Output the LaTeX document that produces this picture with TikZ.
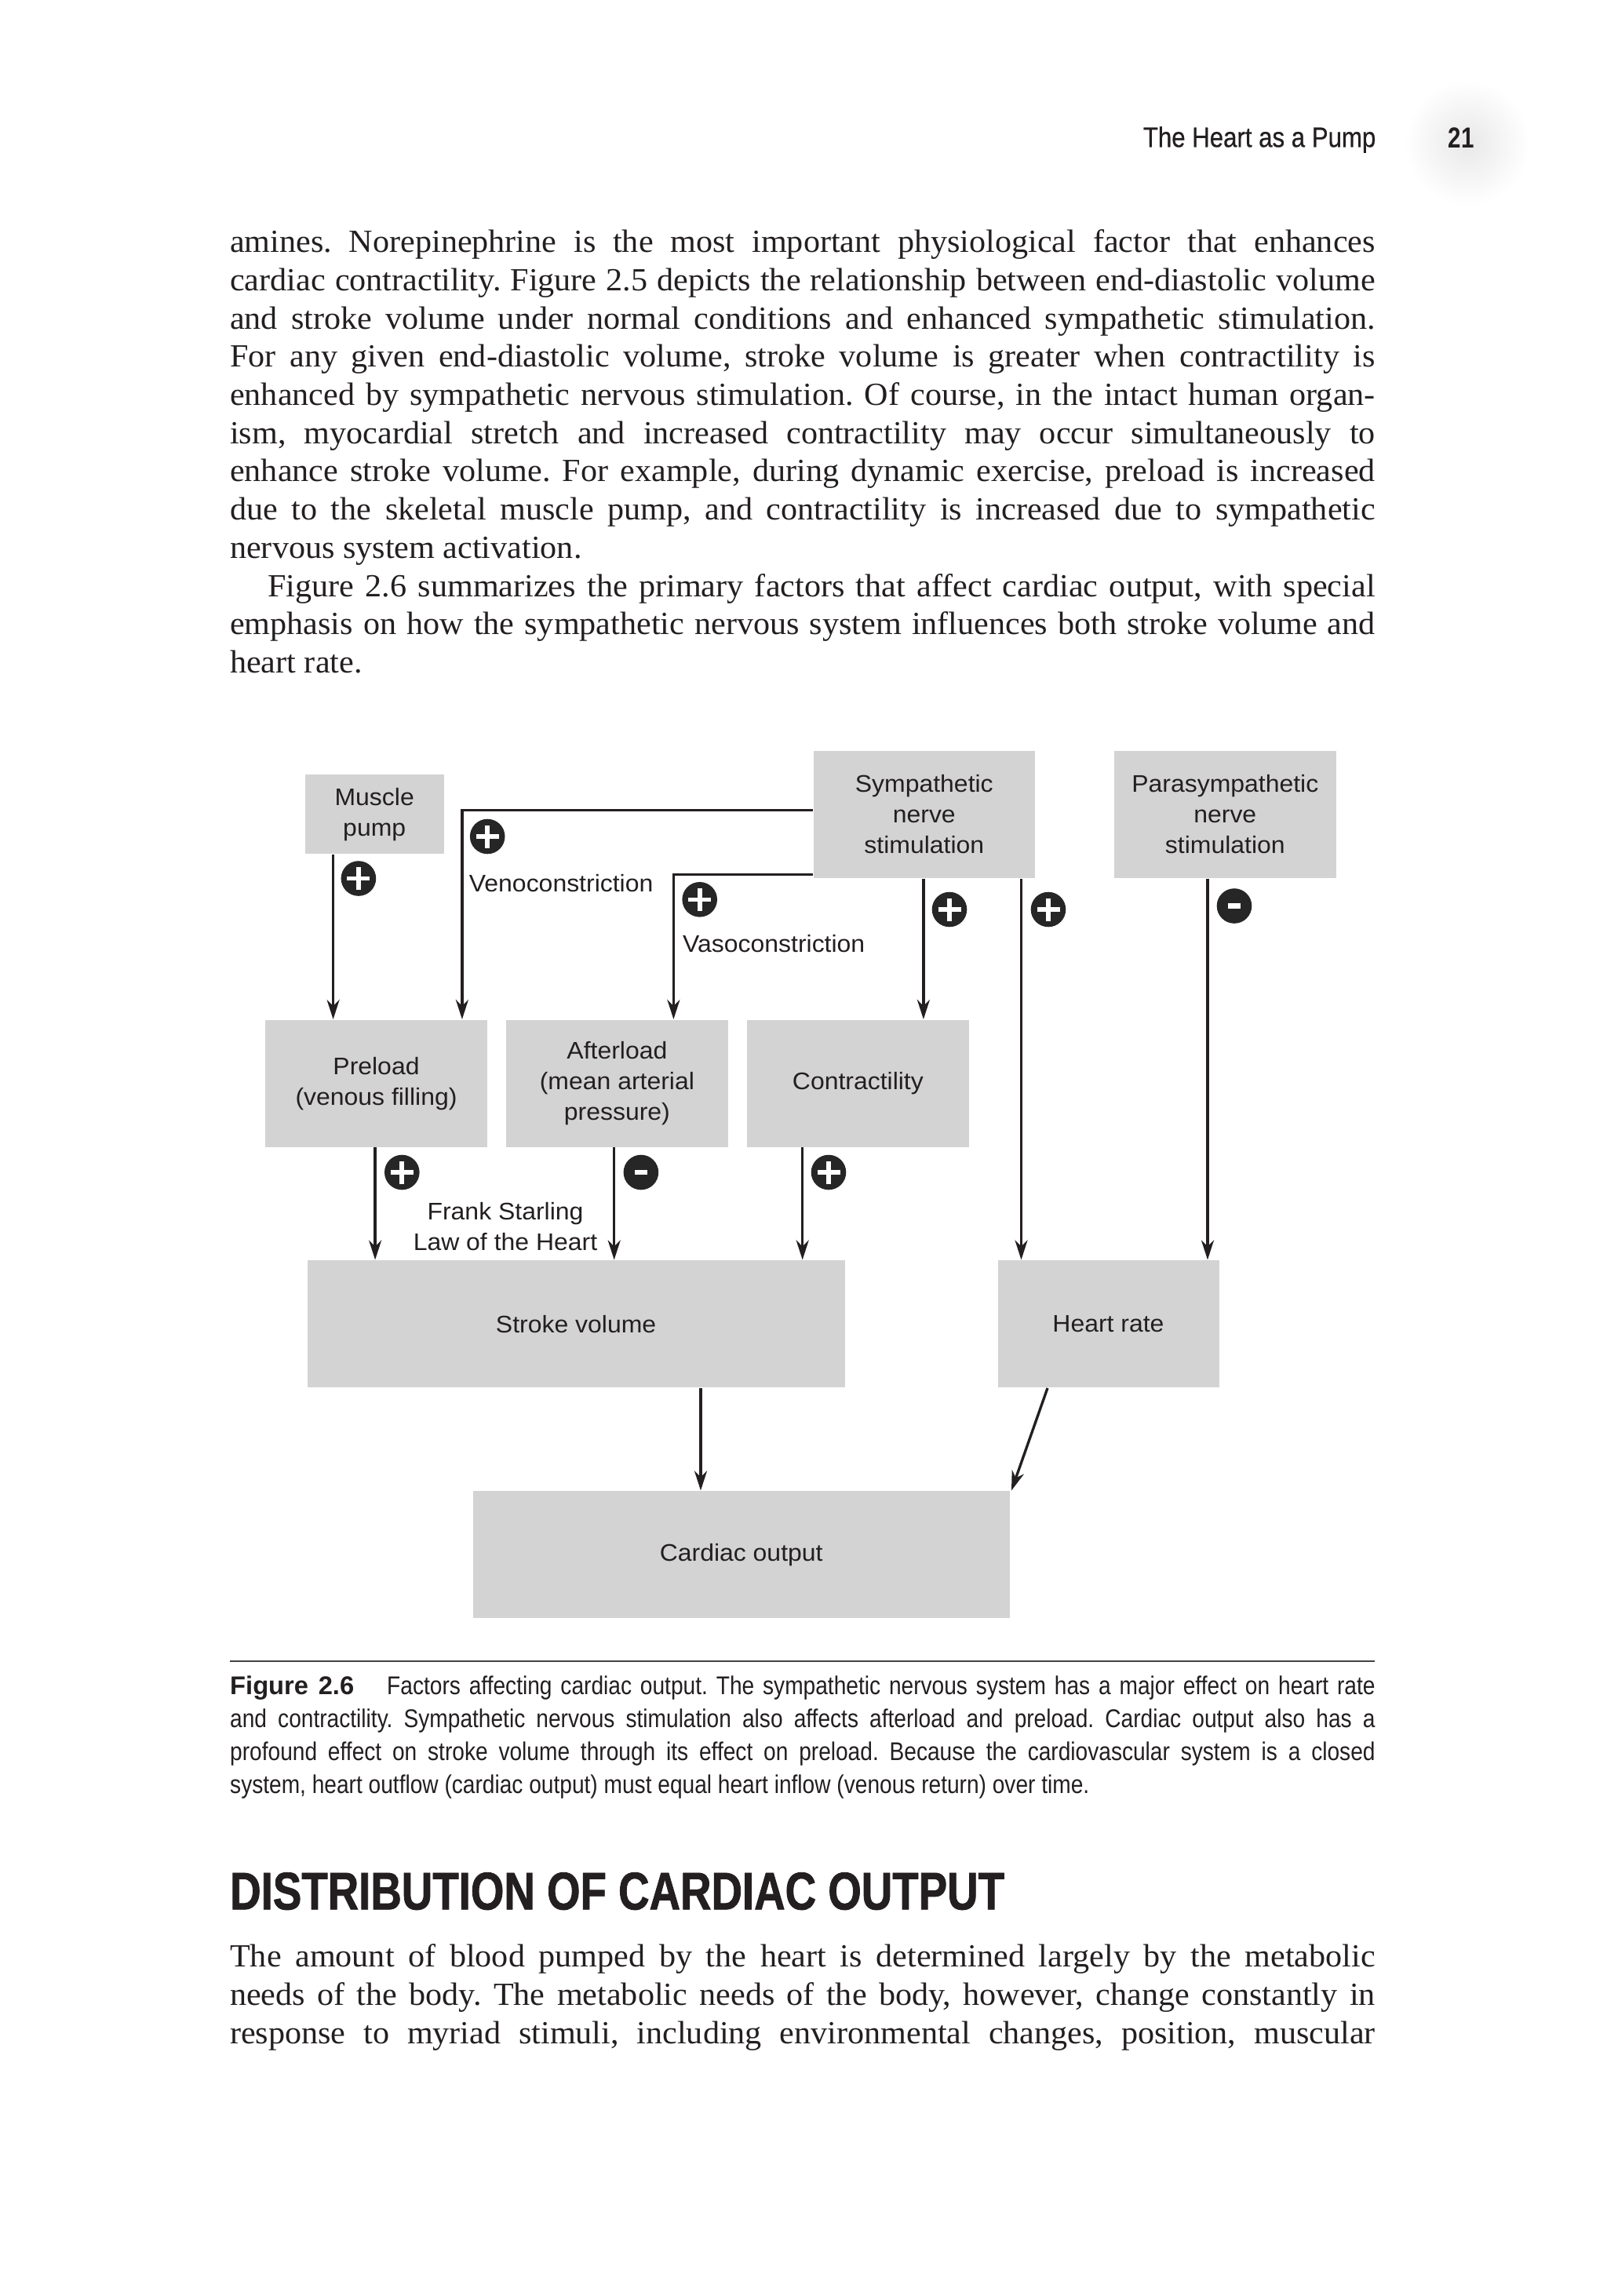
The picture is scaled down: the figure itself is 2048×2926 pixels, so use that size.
\documentclass[tikz,border=0pt]{standalone}
\usepackage{fontspec}
\setmainfont[FakeStretch=1.025]{Liberation Serif}
\newfontfamily\diagfont[FakeStretch=1.045]{Liberation Sans}
\newfontfamily\capfont[FakeStretch=0.86]{Liberation Sans}
\newfontfamily\capbold{Liberation Sans}
\newfontfamily\headfont[FakeStretch=0.87, FakeBold=0.6]{Liberation Sans}
\newfontfamily\secfont[FakeStretch=0.81, FakeBold=1.2]{Liberation Sans}
\newfontfamily\pgfont[FakeStretch=0.80]{Liberation Sans}
\usetikzlibrary{arrows.meta}
\definecolor{boxgray}{RGB}{211,211,211}
\definecolor{inkc}{RGB}{35,31,32}
\definecolor{signc}{RGB}{38,38,38}
\frenchspacing
\newcommand\bodysize{\fontsize{11.7}{14}\selectfont}
\newcommand\jline[1]{\makebox[145.95mm][s]{#1}}
\newcommand\jlineind[1]{\makebox[141.13mm][s]{#1}}
\newcommand\capjline[1]{\makebox[145.95mm][s]{#1}}
\begin{document}
\begin{tikzpicture}[x=0.1mm,y=-0.1mm,
  every node/.style={text=inkc},
  body/.style={anchor=base west, inner sep=0pt, font=\bodysize},
  capl/.style={anchor=base west, inner sep=0pt, font=\capfont\fontsize{9.3}{12}\selectfont},
  box/.style={fill=boxgray, inner sep=0pt, align=center, minimum height=16.2mm,
              font=\diagfont\fontsize{8.7}{11.1}\selectfont},
  lbl/.style={inner sep=0pt, align=center, font=\diagfont\fontsize{8.7}{11.1}\selectfont},
  conn/.style={draw=inkc, line width=0.95pt},
  arr/.style={conn, -{Stealth[length=2.5mm, width=1.6mm, inset=0.8mm]}},
  sign/.style={circle, fill=signc, minimum size=4.46mm, inner sep=0pt},
  plussign/.style={sign, path picture={
      \draw[white, line width=1.6pt] ([xshift=-1.45mm]path picture bounding box.center) -- ([xshift=1.45mm]path picture bounding box.center);
      \draw[white, line width=1.6pt] ([yshift=-1.45mm]path picture bounding box.center) -- ([yshift=1.45mm]path picture bounding box.center);}},
  minussign/.style={sign, path picture={
      \draw[white, line width=1.9pt] ([xshift=-0.77mm]path picture bounding box.center) -- ([xshift=0.77mm]path picture bounding box.center);}}
]
\fill[white] (0,0) rectangle (2048,2926);
\useasboundingbox (0,0) rectangle (2048,2926);

% header
\shade[inner color=black!9, outer color=white] (1870,182) circle (80);
\node[anchor=base east, inner sep=0pt, font=\headfont\fontsize{10.2}{12}\selectfont] (hdr) at (1754,187.3) {The Heart as a Pump};
\node[anchor=base west, inner sep=0pt, font=\pgfont\bfseries\fontsize{10.5}{12}\selectfont] (pg) at (1845,188.3) {21};

% first paragraphs
\node[body] (b1) at (292.5,321.7) {\jline{amines. Norepinephrine is the most important physiological factor that enhances}};
\node[body] (b2) at (292.5,370.4) {\jline{cardiac contractility. Figure 2.5 depicts the relationship between end-diastolic volume}};
\node[body] (b3) at (292.5,419.1) {\jline{and stroke volume under normal conditions and enhanced sympathetic stimulation.}};
\node[body] (b4) at (292.5,467.8) {\jline{For any given end-diastolic volume, stroke volume is greater when contractility is}};
\node[body] (b5) at (292.5,516.5) {\jline{enhanced by sympathetic nervous stimulation. Of course, in the intact human organ-}};
\node[body] (b6) at (292.5,565.2) {\jline{ism, myocardial stretch and increased contractility may occur simultaneously to}};
\node[body] (b7) at (292.5,613.9) {\jline{enhance stroke volume. For example, during dynamic exercise, preload is increased}};
\node[body] (b8) at (292.5,662.6) {\jline{due to the skeletal muscle pump, and contractility is increased due to sympathetic}};
\node[body] (b9) at (292.5,711.3) {nervous system activation.};
\node[body] (b10) at (340.7,760.0) {\jlineind{Figure 2.6 summarizes the primary factors that affect cardiac output, with special}};
\node[body] (b11) at (292.5,808.7) {\jline{emphasis on how the sympathetic nervous system influences both stroke volume and}};
\node[body] (b12) at (292.5,857.4) {heart rate.};

% diagram boxes
\node[box, minimum width=17.73mm, minimum height=10.13mm] (mp) at (477.2,1037.6) {Muscle\\pump};
\node[box, minimum width=28.24mm] (sym) at (1177.8,1037.9) {Sympathetic\\nerve\\stimulation};
\node[box, minimum width=28.34mm] (para) at (1561.3,1037.9) {Parasympathetic\\nerve\\stimulation};
\node[box, minimum width=28.34mm] (pre) at (479.5,1380.7) {Preload\\(venous filling)};
\node[box, minimum width=28.24mm] (aft) at (786.4,1380.7) {Afterload\\(mean arterial\\pressure)};
\node[box, minimum width=28.34mm] (con) at (1093.4,1380.7) {Contractility};
\node[box, minimum width=68.5mm] (sv) at (734.1,1687.2) {Stroke volume};
\node[box, minimum width=28.2mm] (hr) at (1412.5,1687.2) {Heart rate};
\node[box, minimum width=68.42mm] (co) at (944.7,1981.2) {Cardiac output};

% guide coordinates
\coordinate (xMP) at (424.6,0);
\coordinate (xVeno) at (588.9,0);
\coordinate (yVeno) at (0,1032.4);
\coordinate (xVaso) at (858.4,0);
\coordinate (yVaso) at (0,1114.2);
\coordinate (xCon) at (1176.9,0);
\coordinate (xHR) at (1301.5,0);
\coordinate (xPara) at (1539,0);
\coordinate (xPS) at (478.1,0);
\coordinate (xAS) at (782.7,0);
\coordinate (xCS) at (1022.7,0);
\coordinate (xSC) at (893,0);
\coordinate (xHC) at (1335,0);

% connectors
\draw[arr] (mp.south -| xMP) -- (pre.north -| xMP);
\draw[arr] (sym.west |- yVeno) -| (pre.north -| xVeno);
\draw[arr] (sym.west |- yVaso) -| (aft.north -| xVaso);
\draw[arr] (sym.south -| xCon) -- (con.north -| xCon);
\draw[arr] (sym.south -| xHR) -- (hr.north -| xHR);
\draw[arr] (para.south -| xPara) -- (hr.north -| xPara);
\draw[arr] (pre.south -| xPS) -- (sv.north -| xPS);
\draw[arr] (aft.south -| xAS) -- (sv.north -| xAS);
\draw[arr] (con.south -| xCS) -- (sv.north -| xCS);
\draw[arr] (sv.south -| xSC) -- (co.north -| xSC);
\draw[arr] (hr.south -| xHC) -- ([xshift=0.15mm]co.north east);

% signs
\node[plussign] (s1) at (456.9,1119.5) {};
\node[plussign] (s2) at (621.2,1066) {};
\node[plussign] (s3) at (891.7,1146.3) {};
\node[plussign] (s4) at (1210,1159) {};
\node[plussign] (s5) at (1336,1159) {};
\node[minussign] (s6) at (1573,1154.5) {};
\node[plussign] (s7) at (512.3,1494) {};
\node[minussign] (s8) at (816.9,1494) {};
\node[plussign] (s9) at (1056,1494) {};

% labels
\node[lbl, anchor=west] (veno) at (597.2,1125.3) {Venoconstriction};
\node[lbl, anchor=west] (vaso) at (869.5,1202.8) {Vasoconstriction};
\node[lbl] (fs) at (644,1563) {Frank Starling\\Law of the Heart};

% caption
\draw[draw=inkc!85, line width=0.6pt] (292.5,2117.3) -- (1752,2117.3);
\node[capl] (c1) at (292.5,2159.3) {\capjline{{\capbold\bfseries Figure 2.6}\hspace{4.2mm}Factors affecting cardiac output. The sympathetic nervous system has a major effect on heart rate}};
\node[capl] (c2) at (292.5,2201.4) {\capjline{and contractility. Sympathetic nervous stimulation also affects afterload and preload. Cardiac output also has a}};
\node[capl] (c3) at (292.5,2243.5) {\capjline{profound effect on stroke volume through its effect on preload. Because the cardiovascular system is a closed}};
\node[capl] (c4) at (292.5,2285.6) {system, heart outflow (cardiac output) must equal heart inflow (venous return) over time.};

% section heading
\node[anchor=base west, inner sep=0pt, font=\secfont\bfseries\fontsize{19.2}{22}\selectfont] (sec) at (292.5,2433.3) {DISTRIBUTION OF CARDIAC OUTPUT};

% last paragraph
\node[body] (d1) at (292.5,2506.7) {\jline{The amount of blood pumped by the heart is determined largely by the metabolic}};
\node[body] (d2) at (292.5,2555.4) {\jline{needs of the body. The metabolic needs of the body, however, change constantly in}};
\node[body] (d3) at (292.5,2604.1) {\jline{response to myriad stimuli, including environmental changes, position, muscular}};
\end{tikzpicture}
\end{document}
